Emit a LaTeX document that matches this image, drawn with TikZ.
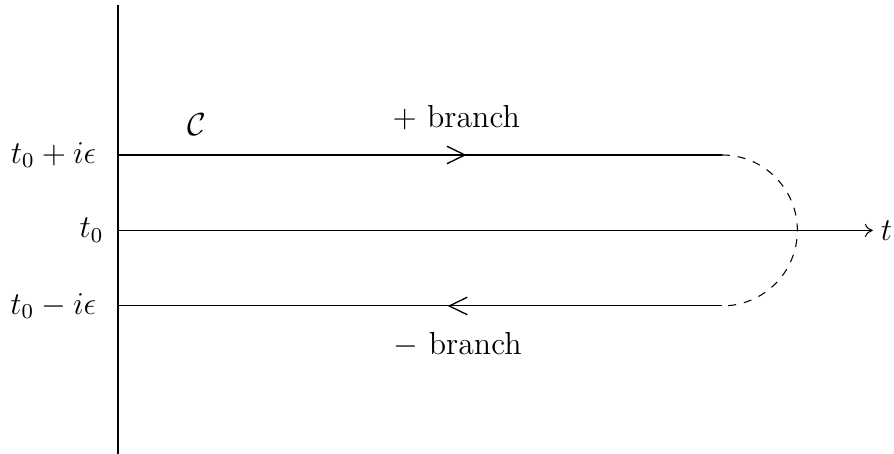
\documentclass[tikz,border=0pt,12pt]{standalone}
\usetikzlibrary{arrows.meta,decorations.markings}
\begin{document}
\begin{tikzpicture}[
  barb/.tip={Straight Barb[length=6.8pt,width=6.6pt,line width=0.5pt]},
  arrowat/.style={postaction={decorate},decoration={markings,
    mark=at position #1 with {\arrow{barb}}}}
]
\useasboundingbox (-1.563,-2.96) rectangle (10.28,3.053);
% axes
\coordinate (top) at (0,2.99);
\coordinate (bot) at (0,-2.96);
\coordinate (o) at (0,0);
\coordinate (tend) at (10,0);
\draw (bot) -- (top);
\draw[-{To[length=3pt,width=5pt]}] (o) -- (tend);
\node[anchor=west,inner sep=0pt] (tlab) at (10.1,0) {$t$};
% contour branches
\coordinate (ua) at (0,1);
\coordinate (ub) at (8,1);
\coordinate (la) at (0,-1);
\coordinate (lb) at (8,-1);
\draw[arrowat=0.577] (ua) -- (ub);
\draw[dashed] (ub) arc[start angle=90,end angle=-90,radius=1];
\draw[arrowat=0.454] (lb) -- (la);
% labels
\node[anchor=east,inner sep=0pt] (lp) at (-0.28,1) {$t_0+i\epsilon$};
\node[anchor=east,inner sep=0pt] (l0) at (-0.185,0) {$t_0$};
\node[anchor=east,inner sep=0pt] (lm) at (-0.28,-1) {$t_0-i\epsilon$};
\node (cc) at (1.05,1.40) {$\mathcal{C}$};
\node (pb) at (4.48,1.5) {$+$ branch};
\node (mb) at (4.5,-1.52) {$-$ branch};
\end{tikzpicture}
\end{document}
